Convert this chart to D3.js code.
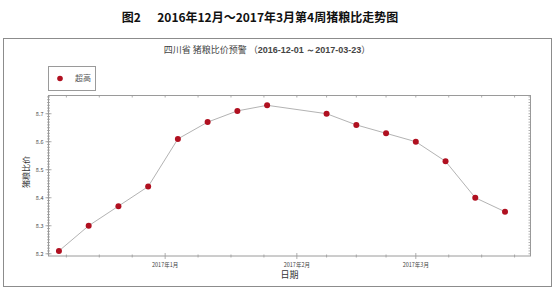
<!DOCTYPE html>
<html>
<head>
<meta charset="utf-8">
<script src="https://cdn.jsdelivr.net/npm/d3@7"></script>
<style>
  body { margin: 0; background: #fff; }
  svg { display: block; font-family: "Noto Sans CJK SC", "Liberation Sans", sans-serif; }
</style>
</head>
<body>
<svg id="chart" width="555" height="291"></svg>
<script>
// weekly pig/grain price ratio, Sichuan (week of Feb 1 has no report)
const weekDates = ["2016-12-07", "2016-12-14", "2016-12-21", "2016-12-28",
    "2017-01-04", "2017-01-11", "2017-01-18", "2017-01-25",
    "2017-02-08", "2017-02-15", "2017-02-22", "2017-03-01",
    "2017-03-08", "2017-03-15", "2017-03-22"];
const ratios = [8.21, 8.30, 8.37, 8.44, 8.61, 8.67, 8.71, 8.73,
    8.70, 8.66, 8.63, 8.60, 8.53, 8.40, 8.35];

const yTickValues = [8.2, 8.3, 8.4, 8.5, 8.6, 8.7];
const monthStarts = ["2016-12-01", "2017-01-01", "2017-02-01", "2017-03-01", "2017-04-01"];
const monthLabels = { "2017-01-01": "2017年1月", "2017-02-01": "2017年2月", "2017-03-01": "2017年3月" };

const parse = d3.timeParse("%Y-%m-%d");
const data = weekDates.map((d, i) => ({ date: parse(d), value: ratios[i] }));

// plot box
const plotLeft = 48.5, plotRight = 530.5, plotTop = 95.5, plotBottom = 256;

const x = d3.scaleTime()
    .domain([new Date(2016, 11, 4, 13), new Date(2017, 2, 28)])
    .range([plotLeft, plotRight]);

const y = d3.scaleLinear()
    .domain([8.192, 8.765])
    .range([plotBottom, plotTop]);

const svg = d3.select("#chart");
const axisColor = "#9a9a9a";

// outer frame
svg.append("rect")
    .attr("x", 3.5).attr("y", 38.5)
    .attr("width", 548).attr("height", 248)
    .attr("fill", "none")
    .attr("stroke", "#8c8c8c");

// titles
svg.append("text")
    .attr("x", 260).attr("y", 22)
    .attr("text-anchor", "middle")
    .attr("font-size", 12)
    .attr("font-weight", "bold")
    .attr("fill", "#111")
    .attr("xml:space", "preserve")
    .text("图2      2016年12月～2017年3月第4周猪粮比走势图");

const sub = svg.append("text")
    .attr("x", 267).attr("y", 53)
    .attr("text-anchor", "middle")
    .attr("font-size", 9)
    .attr("fill", "#444");
sub.append("tspan").text("四川省 猪粮比价预警 （");
sub.append("tspan").attr("font-weight", "bold").attr("font-family", "Liberation Sans, sans-serif")
    .text("2016-12-01 ～2017-03-23");
sub.append("tspan").text("）");

// minor/major x ticks: month starts plus quarter-month divisions
const months = monthStarts.map(parse);
const majorX = [], minorX = [];
for (let i = 0; i < months.length - 1; i++) {
    const a = months[i], b = months[i + 1];
    majorX.push(a);
    for (let k = 1; k < 4; k++) minorX.push(new Date(+a + (b - a) * k / 4));
}
const inX = d => d >= x.domain()[0] && d <= x.domain()[1];
const majX = majorX.filter(inX), minX = minorX.filter(inX);

const minorY = d3.range(8.20, 8.7601, 0.01).map(v => +v.toFixed(2));

// plot border
svg.append("rect")
    .attr("x", plotLeft).attr("y", plotTop)
    .attr("width", plotRight - plotLeft).attr("height", plotBottom - plotTop)
    .attr("fill", "none")
    .attr("stroke", axisColor);

const ticks = svg.append("g").attr("stroke", axisColor).attr("stroke-width", 0.8);

// bottom axis ticks (crossing the line)
ticks.selectAll(".xmin").data(minX).join("line")
    .attr("x1", d => x(d)).attr("x2", d => x(d))
    .attr("y1", plotBottom - 1.5).attr("y2", plotBottom + 1.5);
ticks.selectAll(".xmaj").data(majX).join("line")
    .attr("x1", d => x(d)).attr("x2", d => x(d))
    .attr("y1", plotBottom - 3).attr("y2", plotBottom + 3);
// top mirrored ticks
ticks.selectAll(".xtop").data(minX.concat(majX)).join("line")
    .attr("x1", d => x(d)).attr("x2", d => x(d))
    .attr("y1", plotTop).attr("y2", plotTop + 2);

// left & right axis ticks
ticks.selectAll(".ymin").data(minorY).join("line")
    .attr("x1", plotLeft - 1.5).attr("x2", plotLeft + 1.5)
    .attr("y1", d => y(d)).attr("y2", d => y(d));
ticks.selectAll(".ymaj").data(yTickValues).join("line")
    .attr("x1", plotLeft - 3).attr("x2", plotLeft + 3)
    .attr("y1", d => y(d)).attr("y2", d => y(d));
ticks.selectAll(".yr").data(minorY).join("line")
    .attr("x1", plotRight - 2).attr("x2", plotRight)
    .attr("y1", d => y(d)).attr("y2", d => y(d));

// tick labels
svg.append("g")
    .attr("font-size", 5.5)
    .attr("fill", "#444")
    .attr("text-anchor", "end")
    .selectAll("text")
    .data(yTickValues)
    .join("text")
    .attr("x", plotLeft - 5)
    .attr("y", d => y(d))
    .attr("dy", "0.35em")
    .text(d3.format(".1f"));

const fmtKey = d3.timeFormat("%Y-%m-%d");
svg.append("g")
    .attr("font-size", 5.5)
    .attr("fill", "#444")
    .attr("text-anchor", "middle")
    .selectAll("text")
    .data(majX.filter(d => monthLabels[fmtKey(d)]))
    .join("text")
    .attr("x", d => x(d))
    .attr("y", plotBottom + 11)
    .text(d => monthLabels[fmtKey(d)]);

// axis titles
svg.append("text")
    .attr("x", (plotLeft + plotRight) / 2).attr("y", 278)
    .attr("text-anchor", "middle")
    .attr("font-size", 9)
    .attr("fill", "#333")
    .text("日期");

svg.append("text")
    .attr("transform", "translate(29,172) rotate(-90)")
    .attr("text-anchor", "middle")
    .attr("font-size", 8)
    .attr("fill", "#333")
    .text("猪粮比价");

// series
const line = d3.line().x(d => x(d.date)).y(d => y(d.value));

svg.append("path")
    .datum(data)
    .attr("fill", "none")
    .attr("stroke", "#b3b3b3")
    .attr("stroke-width", 1)
    .attr("d", line);

svg.append("g")
    .attr("fill", "#b01020")
    .selectAll("circle")
    .data(data)
    .join("circle")
    .attr("cx", d => x(d.date))
    .attr("cy", d => y(d.value))
    .attr("r", 3);

// legend
const legend = svg.append("g");
legend.append("rect")
    .attr("x", 48.5).attr("y", 66.5)
    .attr("width", 47).attr("height", 24)
    .attr("fill", "#fff")
    .attr("stroke", axisColor);
legend.append("circle")
    .attr("cx", 60).attr("cy", 78.5).attr("r", 2.8)
    .attr("fill", "#b01020");
legend.append("text")
    .attr("x", 75).attr("y", 78.5)
    .attr("dy", "0.35em")
    .attr("font-size", 8)
    .attr("fill", "#555")
    .text("超高");
</script>
</body>
</html>
